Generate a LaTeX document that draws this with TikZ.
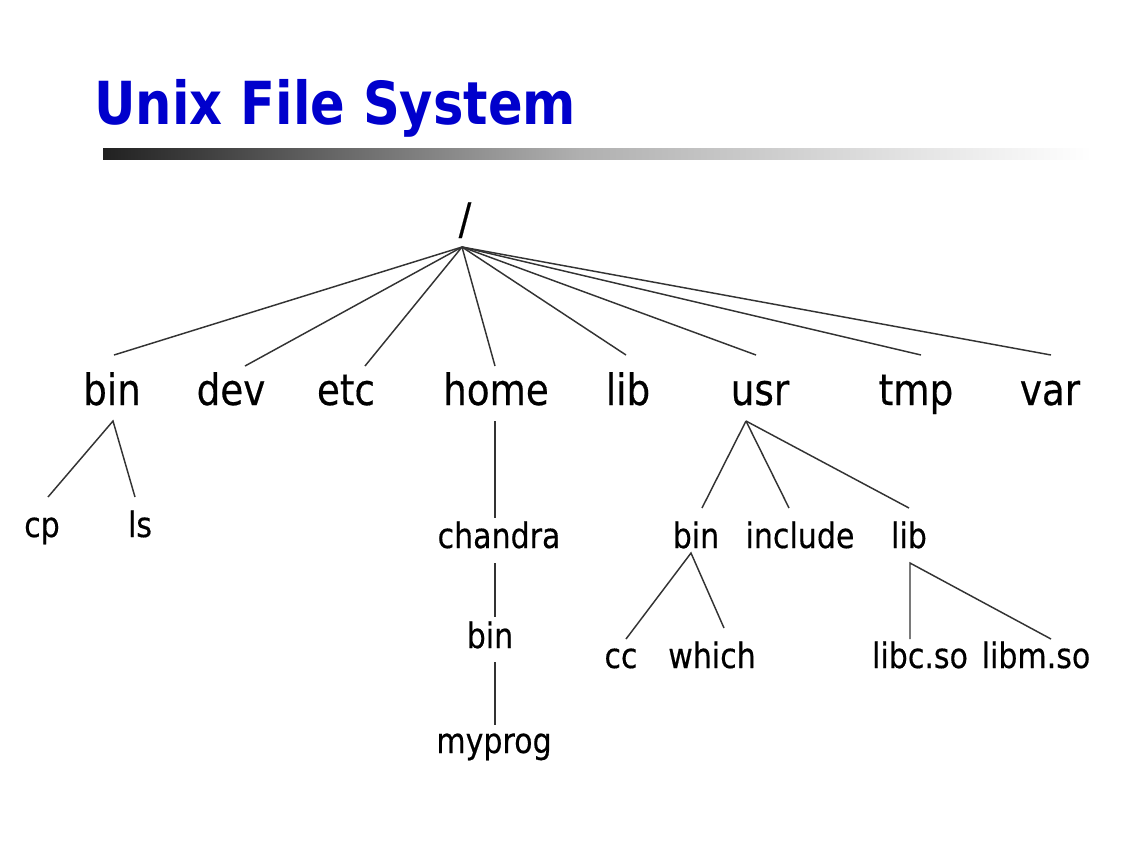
\documentclass[tikz,border=0pt]{standalone}
\usepackage{fontspec}
\usepackage{tikz}
\newfontfamily\fsfont[FakeStretch=0.86,FakeBold=0.4]{DejaVu Sans}
\newfontfamily\fstitlefont[FakeStretch=0.862]{DejaVu Sans}
\definecolor{TitleBlue}{RGB}{0,0,204}
\tikzset{%
  DirTop/.style={anchor=base,inner sep=0pt,font=\fsfont\fontsize{32.5}{36}\selectfont},
  DirSub/.style={anchor=base,inner sep=0pt,font=\fsfont\fontsize{26.2}{30}\selectfont},
  DirEdge/.style={draw=black!80,line width=1.1pt}
}

\begin{document}
\begin{tikzpicture}[x=0.75pt,y=-0.75pt]
  \useasboundingbox (0,0) rectangle (1138,844);
  \node[anchor=base west,inner sep=0pt,text=TitleBlue,
    font=\fstitlefont\bfseries\fontsize{44.5}{50}\selectfont] (title) at (94,124) {Unix File System};
  \shade[left color=black!87,right color=black!31] (103,148) rectangle (580,159);
  \shade[left color=black!31,right color=white] (580,148) rectangle (1092,159);

  \node[DirTop] (root) at (465,234) {/};
  \coordinate (root-j) at (462,247);
  \foreach \name/\x/\ex/\ey in {
    bin/112/114/355,dev/231/245/366,etc/346/365/366,home/496/495/366,
    lib/628/626/355,usr/760/756/355,tmp/916/921/355,var/1050/1051/355
  }{
    \node[DirTop] (\name) at (\x,405) {\name};
    \coordinate (\name-e) at (\ex,\ey);
    \draw[DirEdge] (root-j) -- (\name-e);
  }

  % /bin
  \coordinate (bin-j) at (113,421);
  \node[DirSub] (cp) at (42,537) {cp};
  \node[DirSub] (ls) at (140,537) {ls};
  \coordinate (cp-e) at (48,497);
  \coordinate (ls-e) at (135,497);
  \draw[DirEdge] (cp-e) -- (bin-j) -- (ls-e);

  % /home
  \node[DirSub] (chandra) at (499,548) {chandra};
  \node[DirSub] (hbin) at (490,648) {bin};
  \node[DirSub] (myprog) at (494,753) {myprog};
  \coordinate (home-j) at (495,421);
  \coordinate (chandra-n) at (495,518);
  \coordinate (chandra-s) at (495,563);
  \coordinate (hbin-n) at (495,617);
  \coordinate (hbin-s) at (495,662);
  \coordinate (myprog-n) at (495,725);
  \draw[DirEdge] (home-j) -- (chandra-n);
  \draw[DirEdge] (chandra-s) -- (hbin-n);
  \draw[DirEdge] (hbin-s) -- (myprog-n);

  % /usr
  \coordinate (usr-j) at (746,421);
  \node[DirSub] (ubin) at (696,548) {bin};
  \node[DirSub] (include) at (800,548) {include};
  \node[DirSub] (ulib) at (909,548) {lib};
  \coordinate (ubin-e) at (702,508);
  \coordinate (include-e) at (789,508);
  \coordinate (ulib-e) at (909,508);
  \draw[DirEdge] (usr-j) -- (ubin-e);
  \draw[DirEdge] (usr-j) -- (include-e);
  \draw[DirEdge] (usr-j) -- (ulib-e);

  % /usr/bin
  \coordinate (ubin-j) at (691,553);
  \node[DirSub] (cc) at (621,668) {cc};
  \node[DirSub] (which) at (712,668) {which};
  \coordinate (cc-e) at (626,639);
  \coordinate (which-e) at (724,628);
  \draw[DirEdge] (cc-e) -- (ubin-j) -- (which-e);

  % /usr/lib
  \coordinate (ulib-j) at (910,563);
  \node[DirSub] (libc) at (920,668) {libc.so};
  \node[DirSub] (libm) at (1036,668) {libm.so};
  \coordinate (libc-e) at (910,639);
  \coordinate (libm-e) at (1051,639);
  \draw[DirEdge] (libc-e) -- (ulib-j) -- (libm-e);
\end{tikzpicture}
\end{document}
